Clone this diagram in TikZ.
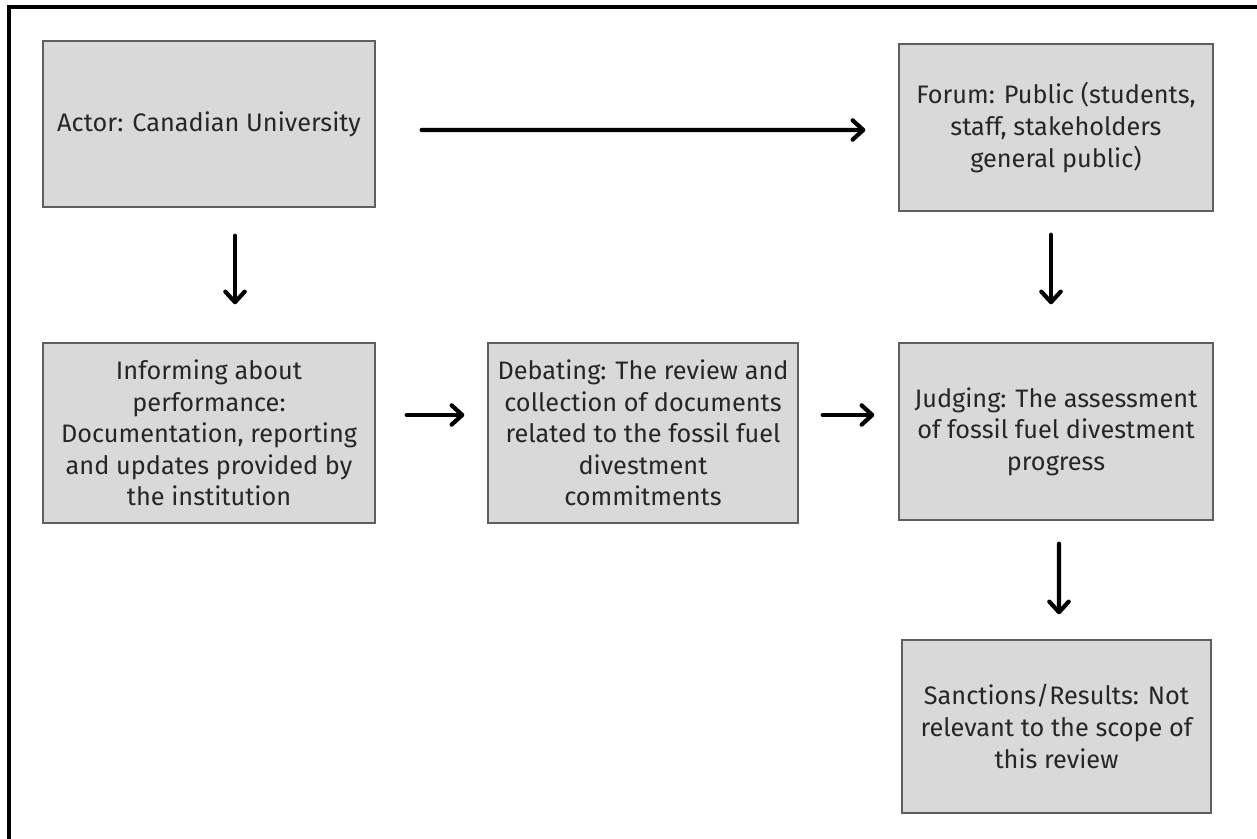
\documentclass[tikz,border=0pt]{standalone}
\usepackage{fontspec}
\setmainfont{Fira Sans}
\usepackage{tikz}
\usetikzlibrary{arrows.meta}
\definecolor{boxgray}{RGB}{217,217,217}
\definecolor{edgegray}{RGB}{95,95,95}
\definecolor{inkgray}{RGB}{38,38,38}
\newcommand{\boxfont}{\fontsize{14.4pt}{18pt}\selectfont}
\tikzset{
  stage/.style={rectangle, draw=edgegray, line width=0.8pt, fill=boxgray, text=inkgray, align=center, inner sep=2pt, font=\boxfont},
  arrow/.style={line width=2.4pt, line cap=round, -{Straight Barb[length=6pt,width=11pt,line cap=round,line join=round]}}
}

\begin{document}
\begin{tikzpicture}
\useasboundingbox (0,0) rectangle (25.14,-16.78);
% frame (top and left side only)
\draw[line width=1.8pt] (0.18,-16.78) -- (0.18,-0.14) -- (25.14,-0.14);
\node (actor) [stage, minimum width=6.64cm, minimum height=3.32cm] at (4.18,-2.48) {Actor: Canadian University};
\node (forum) [stage, minimum width=6.28cm, minimum height=3.34cm] at (21.12,-2.55) {Forum: Public (students,\\ staff, stakeholders\\ general public)};
\node (inform) [stage, minimum width=6.64cm, minimum height=3.6cm] at (4.18,-8.66) {Informing about\\ performance:\\ Documentation, reporting\\ and updates provided by\\ the institution};
\node (debate) [stage, minimum width=6.2cm, minimum height=3.6cm] at (12.86,-8.66) {Debating: The review and\\ collection of documents\\ related to the fossil fuel\\ divestment\\ commitments};
\node (judge) [stage, minimum width=6.28cm, minimum height=3.54cm] at (21.12,-8.63) {Judging: The assessment\\ of fossil fuel divestment\\ progress};
\node (sanction) [stage, minimum width=6.18cm, minimum height=3.46cm] at (21.13,-14.53) {Sanctions/Results: Not\\ relevant to the scope of\\ this review};
% connectors
\draw[arrow, shorten <=0.92cm, shorten >=0.66cm] ([yshift=-0.12cm]actor.east) -- ([yshift=-0.05cm]forum.west);
\draw[arrow, shorten <=0.56cm, shorten >=0.76cm] ([xshift=0.52cm]actor.south) -- ([xshift=0.52cm]inform.north);
\draw[arrow, shorten <=0.46cm, shorten >=0.76cm] ([xshift=-0.1cm]forum.south) -- ([xshift=-0.1cm]judge.north);
\draw[arrow, shorten <=0.62cm, shorten >=0.46cm] ([yshift=0.36cm]inform.east) -- ([yshift=0.36cm]debate.west);
\draw[arrow, shorten <=0.48cm, shorten >=0.48cm] ([yshift=0.36cm]debate.east) -- ([yshift=0.33cm]judge.west);
\draw[arrow, shorten <=0.46cm, shorten >=0.5cm] ([xshift=0.06cm]judge.south) -- ([xshift=0.05cm]sanction.north);
\end{tikzpicture}
\end{document}
